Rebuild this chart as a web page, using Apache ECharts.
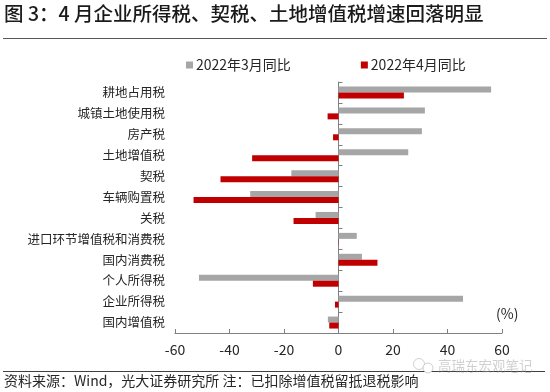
<!DOCTYPE html>
<html>
<head>
<meta charset="utf-8">
<style>
  html, body { margin: 0; padding: 0; background: #fff; }
  #chart { width: 550px; height: 392px; }
</style>
<script src="https://cdn.jsdelivr.net/npm/echarts@6/dist/echarts.min.js"></script>
</head>
<body>
<div id="chart"></div>
<script>
const categories = ["耕地占用税", "城镇土地使用税", "房产税", "土地增值税", "契税", "车辆购置税", "关税", "进口环节增值税和消费税", "国内消费税", "个人所得税", "企业所得税", "国内增值税"];
const march = [56, 31.7, 30.6, 25.6, -17.3, -32.4, -8.4, 6.7, 8.6, -51.2, 45.7, -3.9];
const april = [24, -4, -2, -31.7, -43.3, -53.2, -16.5, 0.1, 14.3, -9.4, -1.3, -3.4];
const seriesNames = ["2022年3月同比", "2022年4月同比"];

const FONT = '"Noto Sans CJK SC", "Noto Sans", sans-serif';
const TEXT = "#262626";
const AXIS = "#7f7f7f";
const MARK = "rgba(150,150,150,0.45)";

const chart = echarts.init(document.getElementById("chart"), null, { renderer: "canvas" });

chart.setOption({
  animation: false,
  textStyle: { fontFamily: FONT },
  grid: { left: 175, right: 48, top: 82, bottom: 59 },
  legend: {
    left: 186,
    top: 58,
    padding: 0,
    itemWidth: 7,
    itemHeight: 7,
    itemGap: 70,
    icon: "rect",
    textStyle: { fontFamily: FONT, fontSize: 14, color: TEXT, padding: [0, 0, 0, -2] },
    data: seriesNames,
  },
  xAxis: {
    type: "value",
    position: "bottom",
    min: -60,
    max: 60,
    interval: 20,
    splitLine: { show: false },
    axisLine: { show: true, onZero: false, lineStyle: { color: AXIS, width: 1 } },
    axisTick: { show: true, inside: true, length: 4, lineStyle: { color: AXIS } },
    axisLabel: { color: TEXT, fontSize: 14, margin: 10, fontFamily: FONT, showMinLabel: true, showMaxLabel: true },
  },
  yAxis: [
    {
      type: "category",
      inverse: true,
      data: categories,
      axisLine: { show: false, onZero: false },
      axisTick: { show: false },
      axisLabel: { color: TEXT, fontSize: 12.5, margin: 10, fontFamily: FONT, interval: 0 },
    },
    {
      type: "category",
      inverse: true,
      position: "left",
      data: categories,
      axisLine: { show: true, onZero: true, lineStyle: { color: AXIS, width: 1 } },
      axisTick: { show: true, inside: true, length: 4, lineStyle: { color: AXIS } },
      axisLabel: { show: false },
    },
  ],
  series: [
    {
      name: seriesNames[0],
      type: "bar",
      data: march,
      barWidth: 6,
      barGap: "0%",
      itemStyle: { color: "#a6a6a6" },
    },
    {
      name: seriesNames[1],
      type: "bar",
      data: april,
      barWidth: 6,
      barGap: "0%",
      itemStyle: { color: "#c00000" },
    },
  ],
  graphic: [
    { type: "text", left: 4, top: 4, style: { text: "图 3：4 月企业所得税、契税、土地增值税增速回落明显", font: "500 19.5px " + FONT, fill: "#1a1a1a" } },
    { type: "line", shape: { x1: 3, y1: 38.5, x2: 547, y2: 38.5 }, style: { stroke: "#595959", lineWidth: 1 } },
    { type: "text", left: 496, top: 307, style: { text: "(%)", font: "14px " + FONT, fill: TEXT } },
    { type: "line", shape: { x1: 3, y1: 371.5, x2: 545, y2: 371.5 }, style: { stroke: "#404040", lineWidth: 1 } },
    { type: "text", left: 4, top: 374, style: { text: "资料来源：Wind，光大证券研究所 注：已扣除增值税留抵退税影响", font: "14px " + FONT, fill: TEXT } },
    // watermark
    { type: "circle", shape: { cx: 419, cy: 364, r: 5.5 }, style: { fill: "#fff", stroke: MARK, lineWidth: 1 } },
    { type: "circle", shape: { cx: 428, cy: 368, r: 5 }, style: { fill: "#fff", stroke: MARK, lineWidth: 1 } },
    { type: "text", left: 438, top: 359, style: { text: "高瑞东宏观笔记", font: "13.5px " + FONT, fill: MARK } },
  ],
});
</script>
</body>
</html>
